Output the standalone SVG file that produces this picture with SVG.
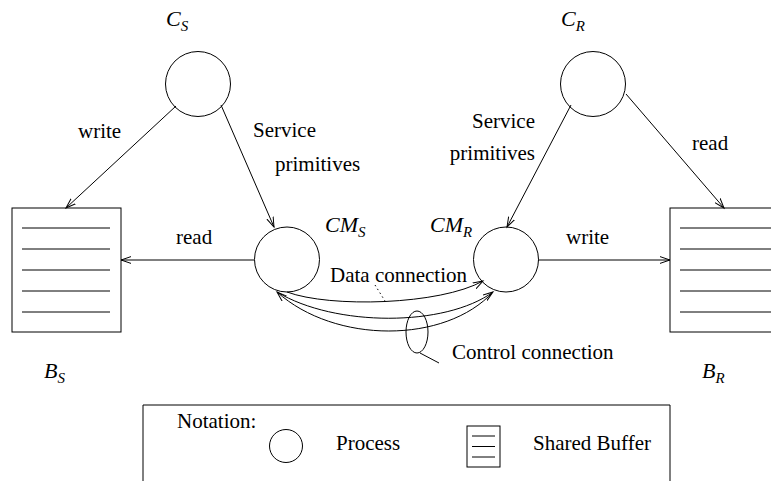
<svg xmlns="http://www.w3.org/2000/svg" width="771" height="481" viewBox="0 0 771 481">
<defs>
<style>
.ln{fill:none;stroke:#000;stroke-width:1}
.t{font-size:21px;fill:#000}
.m{font-size:22px;font-style:italic;fill:#000}
.sub{font-size:15px}
</style>
<marker id="arr" markerWidth="12" markerHeight="8" refX="10" refY="4" orient="auto" markerUnits="userSpaceOnUse">
<path d="M0,0.6 L10,4 L0,7.4" fill="none" stroke="#000" stroke-width="1"/>
</marker>
</defs>
<rect width="771" height="481" fill="#fff"/>
<g font-family="'Times New Roman', Times, Tinos, 'Liberation Serif', 'Noto Serif', 'DejaVu Serif', FreeSerif, serif">
<g id="CS">
<circle class="ln" cx="198" cy="84" r="32.5"/>
<text class="m" x="166" y="26">C<tspan class="sub" dy="5">S</tspan></text>
</g>
<g id="CR">
<circle class="ln" cx="593" cy="84" r="32.5"/>
<text class="m" x="561" y="26">C<tspan class="sub" dy="5">R</tspan></text>
</g>
<g id="CMS">
<circle class="ln" cx="287" cy="259.5" r="32.5"/>
<text class="m" x="325" y="232">CM<tspan class="sub" dy="5">S</tspan></text>
</g>
<g id="CMR">
<circle class="ln" cx="506" cy="259.5" r="32.5"/>
<text class="m" x="430" y="232">CM<tspan class="sub" dy="5">R</tspan></text>
</g>
<g id="BS">
<rect class="ln" x="12" y="208" width="109" height="124"/>
<path class="ln" d="M22,228H110M22,249H110M22,270H110M22,291H110M22,312H110"/>
<text class="m" x="44" y="378">B<tspan class="sub" dy="5">S</tspan></text>
</g>
<g id="BR">
<rect class="ln" x="670" y="208" width="109" height="124"/>
<path class="ln" d="M680,228H771M680,249H771M680,270H771M680,291H771M680,312H771"/>
<text class="m" x="702" y="378">B<tspan class="sub" dy="5">R</tspan></text>
</g>

<g id="connectors">
<line class="ln" x1="176" y1="106" x2="66" y2="208" marker-end="url(#arr)"/>
<line class="ln" x1="221" y1="105" x2="274" y2="227" marker-end="url(#arr)"/>
<line class="ln" x1="571" y1="105" x2="507" y2="227" marker-end="url(#arr)"/>
<line class="ln" x1="626" y1="94" x2="724" y2="208" marker-end="url(#arr)"/>
<line class="ln" x1="254" y1="260" x2="121" y2="260" marker-end="url(#arr)"/>
<line class="ln" x1="538" y1="260" x2="670" y2="260" marker-end="url(#arr)"/>
<path class="ln" d="M287,292 C330,308 440,305 483,281" marker-end="url(#arr)"/>
<path class="ln" d="M277,292 C335,327 445,327 493,292" marker-end="url(#arr)"/>
<path class="ln" d="M493,292 C445,344 335,344 277,292" marker-end="url(#arr)"/>
<line class="ln" x1="375" y1="285" x2="385" y2="301" stroke-dasharray="1.5 3"/>
<ellipse class="ln" cx="417" cy="332" rx="11" ry="21"/>
<line class="ln" x1="420" y1="353" x2="439" y2="363"/>
</g>

<g id="labels">
<text class="t" x="78" y="138">write</text>
<text class="t" x="253" y="137">Service</text>
<text class="t" x="275" y="171">primitives</text>
<text class="t" x="535" y="128" text-anchor="end">Service</text>
<text class="t" x="535" y="160" text-anchor="end">primitives</text>
<text class="t" x="692" y="150">read</text>
<text class="t" x="176" y="244">read</text>
<text class="t" x="566" y="244">write</text>
<text class="t" x="330" y="282">Data connection</text>
<text class="t" x="452" y="359">Control connection</text>
</g>

<g id="notation">
<path class="ln" d="M143,481V405H670V481"/>
<text class="t" x="177" y="428">Notation:</text>
<circle class="ln" cx="286" cy="446" r="16.5"/>
<text class="t" x="336" y="450">Process</text>
<rect class="ln" x="467" y="426" width="33" height="41"/>
<path class="ln" d="M472,436H495M472,446.5H495M472,457H495"/>
<text class="t" x="533" y="450">Shared Buffer</text>
</g>
</g>
</svg>
